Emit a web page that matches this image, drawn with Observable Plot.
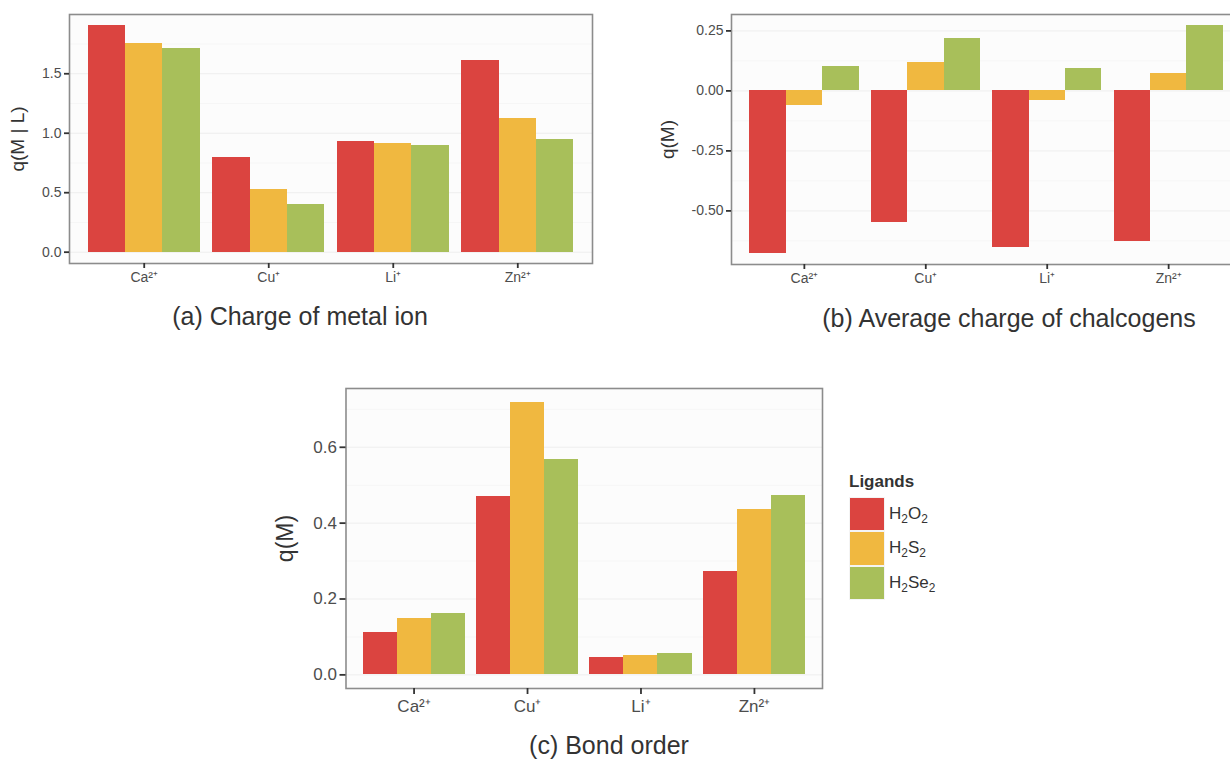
<!DOCTYPE html>
<html>
<head>
<meta charset="utf-8">
<script src="https://cdn.jsdelivr.net/npm/d3@7"></script>
<script src="https://cdn.jsdelivr.net/npm/@observablehq/plot@0.6"></script>
<style>
  html, body { margin: 0; padding: 0; background: #fff; }
  #page { position: relative; width: 1230px; height: 762px; overflow: hidden; background: #fff;
          font-family: "Liberation Sans", Arial, sans-serif; }
  .panel { position: absolute; }
  .caption { position: absolute; width: 600px; text-align: center; font-size: 25px; line-height: 25px; color: #333; white-space: nowrap; }
  #legend { position: absolute; left: 849px; top: 472px; font-family: "Liberation Sans", Arial, sans-serif; color: #333; }
  #legend .title { font-weight: bold; font-size: 17px; line-height: 20px; margin-bottom: 5px; }
  #legend .row { display: flex; align-items: center; height: 34.3px; }
  #legend .key { width: 36px; height: 34.3px; box-sizing: border-box; border: 1px solid #f4f4f4; }
  #legend .lab { font-size: 17px; margin-left: 4px; }
  #legend sub { font-size: 70%; vertical-align: -0.3em; line-height: 0; }
</style>
</head>
<body>
<div id="page"></div>
<script>
// ---------- data ----------
const ions = ["Ca²⁺", "Cu⁺", "Li⁺", "Zn²⁺"];
const ligands = ["H2O2", "H2S2", "H2Se2"];
const colors = ["#DB4440", "#F0B840", "#A8BF5A"];

// (a) Charge of metal ion, q(M | L) — order follows ions
const metalH2O2  = [1.903, 0.796, 0.934, 1.615];
const metalH2S2  = [1.752, 0.523, 0.917, 1.127];
const metalH2Se2 = [1.713, 0.402, 0.900, 0.950];

// (b) Average charge of chalcogens, q(M)
const chalcH2O2  = [-0.676, -0.549, -0.654, -0.629];
const chalcH2S2  = [-0.061, 0.118, -0.039, 0.073];
const chalcH2Se2 = [0.100, 0.218, 0.095, 0.271];

// (c) Bond order, q(M)
const bondH2O2  = [0.112, 0.469, 0.046, 0.273];
const bondH2S2  = [0.149, 0.719, 0.051, 0.435];
const bondH2Se2 = [0.163, 0.567, 0.056, 0.473];

// tick labels
const ticksA = [0, 0.5, 1.0, 1.5];
const minorA = [0.25, 0.75, 1.25, 1.75];
const ticksB = [-0.5, -0.25, 0, 0.25];
const minorB = [-0.625, -0.375, -0.125, 0.125];
const ticksC = [0, 0.2, 0.4, 0.6];
const minorC = [0.1, 0.3, 0.5, 0.7];

const captions = ["(a) Charge of metal ion", "(b) Average charge of chalcogens", "(c) Bond order"];

// ---------- helpers ----------
// dodged bars like ggplot: categories at 1..n, group width 0.9 split among ligands
function table(series) {
  const rows = [];
  const w = 0.9 / ligands.length;
  ions.forEach((ion, i) => ligands.forEach((lig, j) => {
    const x1 = (i + 1) - 0.45 + j * w;
    rows.push({ion, ligand: lig, value: series[j][i], x1, x2: x1 + w});
  }));
  return rows;
}

function panel(o) {
  const data = table(o.series);
  const [lo, hi] = d3.extent([0, ...data.map(d => d.value)]);
  const pad = (hi - lo) * 0.05;
  const font = "Liberation Sans, Arial, sans-serif";
  const pos = ions.map((d, i) => i + 1);
  return Plot.plot({
    width: o.width, height: o.height,
    marginLeft: o.ml, marginRight: o.mr, marginTop: o.mt, marginBottom: o.mb,
    style: {fontFamily: font, background: "transparent", overflow: "visible"},
    x: {domain: [0.4, ions.length + 0.6]},
    y: {domain: [lo - pad, hi + pad]},
    color: {domain: ligands, range: colors},
    marks: [
      Plot.frame({fill: "#fcfcfc", stroke: null}),
      Plot.gridY(o.minor, {stroke: "#f6f6f6", strokeOpacity: 1, strokeWidth: 1}),
      Plot.gridY(o.ticks, {stroke: "#eeeeee", strokeOpacity: 1, strokeWidth: 1}),
      Plot.rect(data, {x1: "x1", x2: "x2", y1: 0, y2: "value", fill: "ligand", shapeRendering: "crispEdges"}),
      Plot.frame({stroke: "#8c8c8c", strokeWidth: 1.6}),
      Plot.axisY(o.ticks, {tickFormat: o.fmt, tickSize: o.ts, tickPadding: 3,
        fontSize: o.fs, fill: "#4d4d4d", stroke: "#333", strokeWidth: 1.8, label: null}),
      Plot.axisY([], {label: o.ylabel, labelAnchor: "center", labelArrow: "none",
        labelOffset: o.lo, fontSize: o.lfs, fill: "#333", tickSize: 0}),
      Plot.axisX(pos, {tickFormat: i => ions[i - 1], tickSize: o.ts, tickPadding: o.tp, fontSize: o.fs,
        fill: "#4d4d4d", stroke: "#333", strokeWidth: 1.8, label: null})
    ]
  });
}

const page = document.getElementById("page");
function place(el, left, top) { el.classList.add("panel"); el.style.left = left + "px"; el.style.top = top + "px"; page.appendChild(el); }
function caption(text, cx, top) {
  const d = document.createElement("div");
  d.className = "caption"; d.textContent = text;
  d.style.left = (cx - 300) + "px"; d.style.top = top + "px";
  page.appendChild(d);
}

const pa = panel({series: [metalH2O2, metalH2S2, metalH2Se2], width: 610, height: 300, ml: 69, mr: 18, mt: 14, mb: 37,
  ticks: ticksA, minor: minorA, fmt: d => d.toFixed(1), ts: 5, tp: 4, fs: 14, ylabel: "q(M | L)", lo: 59, lfs: 19});
place(pa, 0, 0);
caption(captions[0], 300, 304);

const pb = panel({series: [chalcH2O2, chalcH2S2, chalcH2Se2], width: 640, height: 300, ml: 111, mr: 19, mt: 14, mb: 36,
  ticks: ticksB, minor: minorB, fmt: d => d.toFixed(2), ts: 5, tp: 4, fs: 14, ylabel: "q(M)", lo: 71, lfs: 19});
place(pb, 620, 0);
caption(captions[1], 1009, 306);

const pc = panel({series: [bondH2O2, bondH2S2, bondH2Se2], width: 580, height: 360, ml: 85.5, mr: 18, mt: 18, mb: 42,
  ticks: ticksC, minor: minorC, fmt: d => d.toFixed(1), ts: 6, tp: 5, fs: 17, ylabel: "q(M)", lo: 69, lfs: 23});
place(pc, 260, 370);
caption(captions[2], 609, 733);

// legend from the color scale
const cs = pc.scale("color");
const leg = document.createElement("div");
leg.id = "legend";
const sub = s => s.replace(/(\d+)/g, "<sub>$1</sub>");
leg.innerHTML = `<div class="title">Ligands</div>` + cs.domain.map((lig, i) =>
  `<div class="row"><div class="key" style="background:${cs.range[i]}"></div><div class="lab">${sub(lig)}</div></div>`).join("");
page.appendChild(leg);
</script>
</body>
</html>
